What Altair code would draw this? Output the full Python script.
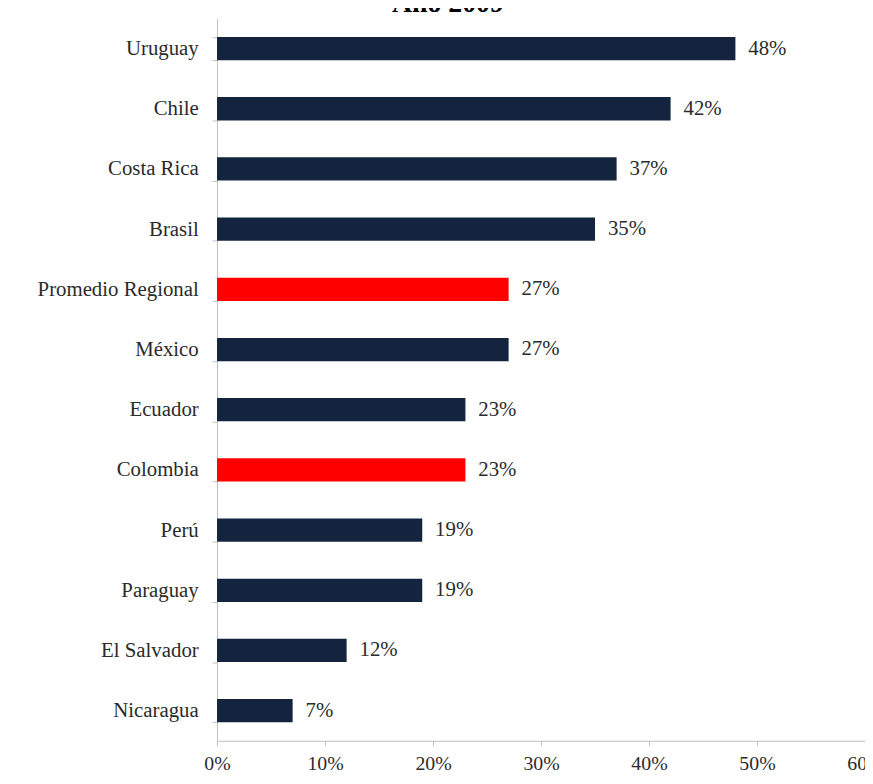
import altair as alt
import pandas as pd

titulo = ["Año 2009"]
paises = ["Uruguay", "Chile", "Costa Rica", "Brasil", "Promedio Regional", "México",
          "Ecuador", "Colombia", "Perú", "Paraguay", "El Salvador", "Nicaragua"]
valores = [48, 42, 37, 35, 27, 27, 23, 23, 19, 19, 12, 7]
grupo = ["otro", "otro", "otro", "otro", "destacado", "otro",
         "otro", "destacado", "otro", "otro", "otro", "otro"]
ticks_x = [0, 10, 20, 30, 40, 50, 60]

df = pd.DataFrame({"pais": paises, "valor": valores, "grupo": grupo})
df["etiqueta"] = df["valor"].astype(str) + "%"

FONT = "Liberation Serif"

y_enc = alt.Y(
    "pais:N", sort=paises, title=None,
    scale=alt.Scale(paddingInner=0.613, paddingOuter=0.3065),
    axis=alt.Axis(labelFont=FONT, labelFontSize=21, labelColor="#2b2b2b",
                  labelPadding=14, domainColor="#BFBFBF", tickColor="#BFBFBF",
                  tickSize=5, tickBand="extent", grid=False),
)
x_enc = alt.X(
    "valor:Q", title=None,
    scale=alt.Scale(domain=[0, 60], nice=False),
    axis=alt.Axis(values=ticks_x, labelExpr="datum.value + '%'", labelFont=FONT,
                  labelFontSize=20, labelColor="#2b2b2b", labelPadding=8,
                  tickSize=5, tickColor="#BFBFBF", domainColor="#BFBFBF",
                  grid=False, labelFlush=False),
)

bars = alt.Chart(df).mark_bar().encode(
    y=y_enc,
    x=x_enc,
    color=alt.Color("grupo:N", legend=None,
                    scale=alt.Scale(domain=["otro", "destacado"],
                                    range=["#14243F", "#FF0000"])),
)

labels = alt.Chart(df).mark_text(
    align="left", baseline="middle", dx=13, font=FONT, fontSize=21, color="#2b2b2b"
).encode(
    y=alt.Y("pais:N", sort=paises),
    x=alt.X("valor:Q"),
    text="etiqueta:N",
)

title_layer = alt.Chart(pd.DataFrame({"t": titulo})).mark_text(
    align="center", baseline="alphabetic", font=FONT, fontSize=28,
    fontWeight="bold", color="#000000"
).encode(
    x=alt.value(233),
    y=alt.value(-7),
    text="t:N",
)

chart = alt.layer(bars, labels, title_layer).properties(
    width=654,
    height=729,
    padding={"left": 211, "top": 7, "right": 0, "bottom": 32},
    autosize=alt.AutoSizeParams(type="none"),
).configure_view(stroke=None)

chart.save("out.html", embed_options={"renderer": "svg", "actions": False})
